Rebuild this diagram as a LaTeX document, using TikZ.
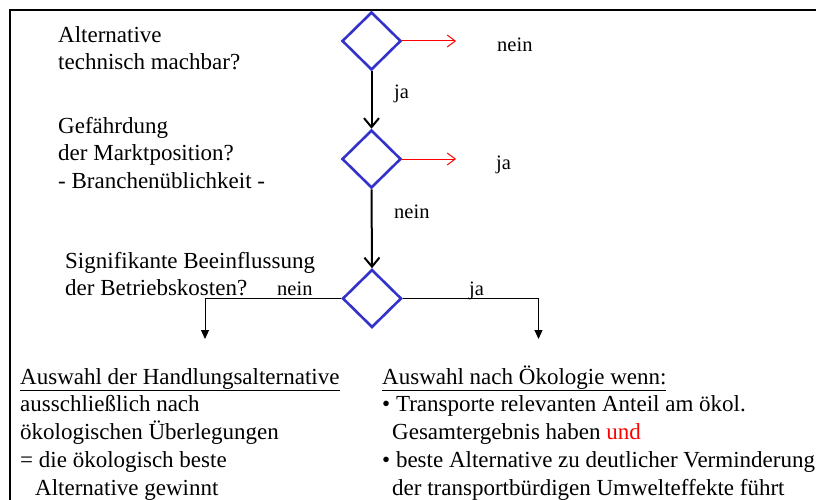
\documentclass[tikz,border=0pt]{standalone}
\usepackage{fontspec}
\setmainfont{Liberation Serif}
\usetikzlibrary{shapes.geometric,arrows.meta}
\definecolor{dblue}{RGB}{51,51,204}
\definecolor{dred}{RGB}{255,0,0}
\begin{document}
\begin{tikzpicture}[x=1pt,y=-1pt,
  txt/.style={anchor=base west,inner sep=0pt,font=\fontsize{23}{28}\selectfont},
  lbl/.style={anchor=base west,inner sep=0pt,font=\fontsize{20.5}{24}\selectfont},
  decision/.style={diamond,draw=dblue,line width=2.6pt,minimum width=59pt,minimum height=58pt,inner sep=0pt},
  mainflow/.style={draw=black,line width=2pt,-{Straight Barb[length=9pt,width=15pt]}},
  exitflow/.style={draw=dred,line width=1pt,-{Straight Barb[length=8pt,width=12pt]}},
  branch/.style={draw=black,line width=1pt,-{Triangle[length=9pt,width=8pt]}}]
\useasboundingbox (0,0) rectangle (816,500);

% frame (open to the right and bottom)
\draw[line width=1.6pt] (816,10) -- (10,10) -- (10,500);

% decisions
\node[decision] (d1) at (371.5,41) {};
\node[decision] (d2) at (371.5,159) {};
\node[decision] (d3) at (372,298.5) {};

% exits to the right
\coordinate (e1) at (456,41);
\coordinate (e2) at (456,159);
\draw[exitflow] (d1.east) -- (e1);
\draw[exitflow] (d2.east) -- (e2);
\node[lbl] (n1) at (497,52) {nein};
\node[lbl] (j2) at (496,169) {ja};

% main flow downwards
\draw[mainflow] (d1.south) -- (d2.north);
\draw[mainflow] (d2.south) -- (d3.north);
\node[lbl] (j1) at (394,99) {ja};
\node[lbl] (n2) at (394,218) {nein};

% final branches
\coordinate (bl) at (205,339);
\coordinate (br) at (538.5,339);
\draw[branch] (d3.west) -| (bl);
\draw[branch] (d3.east) -| (br);
\node[lbl] (n3) at (277,295) {nein};
\node[lbl] (j3) at (469,295) {ja};

% questions
\node[txt] (q1a) at (58,43) {Alternative};
\node[txt] (q1b) at (58,70) {technisch machbar?};
\node[txt] (q2a) at (58,133) {Gefährdung};
\node[txt] (q2b) at (58,160) {der Marktposition?};
\node[txt] (q2c) at (58,188) {- Branchenüblichkeit -};
\node[txt] (q3a) at (65,268) {Signifikante Beeinflussung};
\node[txt] (q3b) at (65,295) {der Betriebskosten?};

% outcome: no significant influence
\node[txt] (la) at (20,384) {\underline{Auswahl der Handlungsalternative}};
\node[txt] (lb) at (20,411) {ausschließlich nach};
\node[txt] (lc) at (20,439) {ökologischen Überlegungen};
\node[txt] (ld) at (20,467) {= die ökologisch beste};
\node[txt] (le) at (35,495) {Alternative gewinnt};

% outcome: significant influence
\node[txt] (ra) at (382,384) {\underline{Auswahl nach Ökologie wenn:}};
\node[txt] (rb) at (382,411) {• Transporte relevanten Anteil am ökol.};
\node[txt] (rc) at (392,439) {Gesamtergebnis haben \textcolor{dred}{und}};
\node[txt] (rd) at (382,467) {• beste Alternative zu deutlicher Verminderung};
\node[txt] (re) at (392,495) {der transportbürdigen Umwelteffekte führt};
\end{tikzpicture}
\end{document}
